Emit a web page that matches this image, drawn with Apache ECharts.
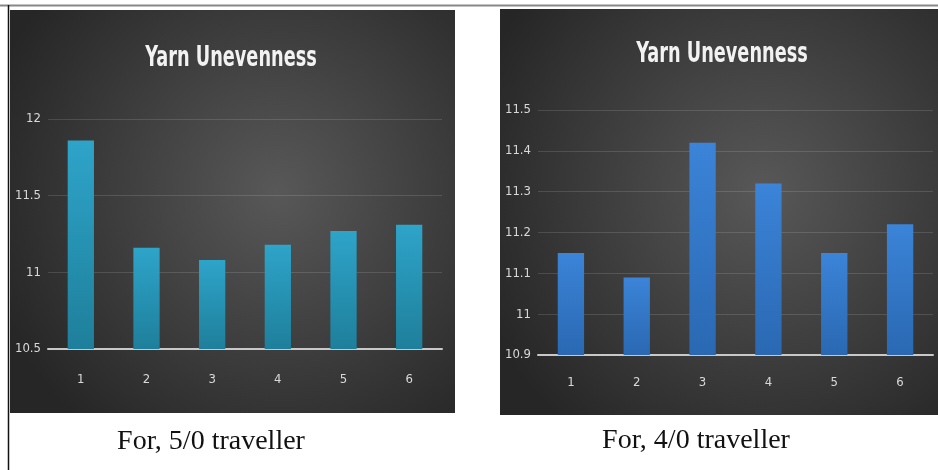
<!DOCTYPE html>
<html lang="en">
<head>
    <meta charset="UTF-8">
    <title>Yarn Unevenness</title>
    <script src="https://cdn.jsdelivr.net/npm/echarts@6/dist/echarts.min.js"></script>
    <style>
        * {
            margin: 0;
            padding: 0
        }

        html, body {
            width: 100%;
            height: 100%;
            background: #fff;
        }

        #main {
            width: 938px;
            height: 470px;
        }
    </style>
</head>
<body>
    <div id="main"></div>
</body>
<script type="text/javascript">
    /*--------------------data-----------------------------*/
    var categories = ['1', '2', '3', '4', '5', '6'];
    var values50 = [11.86, 11.16, 11.08, 11.18, 11.27, 11.31];   // 5/0 traveller
    var values40 = [11.15, 11.09, 11.42, 11.32, 11.15, 11.22];   // 4/0 traveller
    var chartTitle = 'Yarn Unevenness';
    var captions = ['For, 5/0 traveller', 'For, 4/0 traveller'];

    var condensed = "'DejaVu Sans Condensed', 'DejaVu Sans', sans-serif";
    var serif = "'Liberation Serif', 'DejaVu Serif', serif";

    var myChart = echarts.init(document.getElementById('main'));

    function panelBg(x, y, w, h) {
        return {
            type: 'rect',
            shape: {x: x, y: y, width: w, height: h},
            style: {
                fill: new echarts.graphic.RadialGradient(0.6, 0.45, 0.75, [
                    {offset: 0, color: '#585858'},
                    {offset: 1, color: '#262626'}
                ])
            },
            z: -10
        };
    }

    // title drawn narrow, like the condensed font of the original
    function titleText(x, y) {
        return {
            type: 'text', x: x, y: y, scaleX: 0.68,
            style: {
                text: chartTitle, align: 'center', verticalAlign: 'middle',
                fill: '#f2f2f2', font: 'bold 29px ' + condensed,
                shadowColor: 'rgba(0,0,0,0.7)', shadowBlur: 4, shadowOffsetY: 1
            }
        };
    }

    function captionText(x, y, txt) {
        return {
            type: 'text', x: x, y: y,
            style: {
                text: txt, align: 'center', verticalAlign: 'middle',
                fill: '#111', font: '28px ' + serif
            }
        };
    }

    function barGradient(top, bottom) {
        return new echarts.graphic.LinearGradient(0, 0, 0, 1, [
            {offset: 0, color: top},
            {offset: 1, color: bottom}
        ]);
    }

    var axisLabel = {
        color: '#d9d9d9',
        fontFamily: condensed,
        fontSize: 13
    };

    myChart.setOption({
        animation: false,
        backgroundColor: '#ffffff',
        graphic: [
            panelBg(10, 10, 445, 403),
            panelBg(500, 9, 438, 406),
            // frame lines
            {type: 'line', shape: {x1: 0, y1: 5.5, x2: 938, y2: 5.5}, style: {stroke: '#888', lineWidth: 2}},
            {type: 'line', shape: {x1: 8.5, y1: 5, x2: 8.5, y2: 470}, style: {stroke: '#111', lineWidth: 1.5}},
            titleText(231, 58),
            titleText(722, 54),
            captionText(211, 442, captions[0]),
            captionText(696, 441, captions[1])
        ],
        grid: [
            {left: 48, top: 119, width: 394, height: 230},
            {left: 538, top: 110, width: 395, height: 245}
        ],
        xAxis: [
            {
                type: 'category', gridIndex: 0, data: categories,
                axisLine: {lineStyle: {color: '#c8c8c8', width: 2}},
                axisTick: {show: false},
                axisLabel: Object.assign({margin: 24}, axisLabel)
            },
            {
                type: 'category', gridIndex: 1, data: categories,
                axisLine: {lineStyle: {color: '#c8c8c8', width: 2}},
                axisTick: {show: false},
                axisLabel: Object.assign({margin: 21}, axisLabel)
            }
        ],
        yAxis: [
            {
                type: 'value', gridIndex: 0, min: 10.5, max: 12, interval: 0.5,
                axisLine: {show: false}, axisTick: {show: false},
                splitLine: {lineStyle: {color: 'rgba(255,255,255,0.13)', width: 1}},
                axisLabel: Object.assign({margin: 7}, axisLabel)
            },
            {
                type: 'value', gridIndex: 1, min: 10.9, max: 11.5, interval: 0.1,
                axisLine: {show: false}, axisTick: {show: false},
                splitLine: {lineStyle: {color: 'rgba(255,255,255,0.13)', width: 1}},
                axisLabel: Object.assign({margin: 7}, axisLabel)
            }
        ],
        series: [
            {
                name: '5/0 traveller', type: 'bar', xAxisIndex: 0, yAxisIndex: 0,
                data: values50, barWidth: '40%',
                itemStyle: {color: barGradient('#2ea4c9', '#1e7f9b')}
            },
            {
                name: '4/0 traveller', type: 'bar', xAxisIndex: 1, yAxisIndex: 1,
                data: values40, barWidth: '40%',
                itemStyle: {color: barGradient('#3b84d8', '#2a68b2')}
            }
        ]
    });
</script>
</html>
